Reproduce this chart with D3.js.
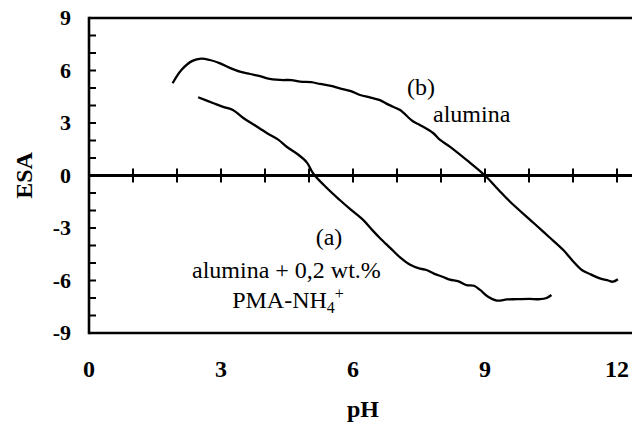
<!DOCTYPE html>
<html>
<head>
<meta charset="utf-8">
<script src="https://cdn.jsdelivr.net/npm/d3@7"></script>
<style>
  body { margin: 0; background: #fff; }
  svg { display: block; }
</style>
</head>
<body>
<svg></svg>
<script>
// ESA vs pH curves
const xTicks = [0, 3, 6, 9, 12];
const yTicks = [-9, -6, -3, 0, 3, 6, 9];

// (b) alumina
const alumina = [
  [1.9, 5.27], [2.1, 6.03], [2.35, 6.55], [2.55, 6.68], [2.75, 6.6], [2.98, 6.41],
  [3.2, 6.15], [3.43, 5.93], [3.66, 5.8], [3.89, 5.68], [4.05, 5.55], [4.34, 5.46],
  [4.6, 5.45], [4.8, 5.36], [5.05, 5.33], [5.25, 5.23], [5.5, 5.12], [5.7, 4.98],
  [5.95, 4.82], [6.16, 4.6], [6.4, 4.45], [6.61, 4.31], [6.75, 4.12], [6.91, 3.93],
  [7.07, 3.74], [7.36, 3.1], [7.52, 2.89], [7.82, 2.43], [7.98, 2.03], [8.2, 1.65],
  [8.58, 0.89], [9.0, 0.0], [9.3, -0.8], [9.57, -1.5], [10.1, -2.7], [10.45, -3.5],
  [10.78, -4.26], [11.0, -4.9], [11.2, -5.4], [11.4, -5.65], [11.61, -5.88],
  [11.8, -6.0], [11.91, -6.07], [12.02, -5.93]
];

// (a) alumina + 0,2 wt.% PMA-NH4+
const aluminaPMA = [
  [2.48, 4.47], [2.83, 4.13], [3.05, 3.92], [3.27, 3.74], [3.5, 3.3], [3.75, 2.9],
  [4.04, 2.43], [4.3, 2.05], [4.5, 1.63], [4.75, 1.2], [4.95, 0.75], [5.1, 0.1],
  [5.4, -0.7], [5.7, -1.4], [5.95, -1.95], [6.23, -2.54], [6.45, -3.15], [6.61, -3.57],
  [6.85, -4.15], [7.07, -4.68], [7.3, -5.1], [7.52, -5.32], [7.67, -5.4], [7.85, -5.62],
  [8.05, -5.8], [8.2, -5.95], [8.4, -6.05], [8.58, -6.26], [8.75, -6.3], [8.89, -6.54],
  [9.07, -6.93], [9.27, -7.15], [9.5, -7.08], [9.72, -7.07], [10.0, -7.05],
  [10.25, -7.07], [10.4, -7.0], [10.51, -6.83]
];

const width = 632, height = 423;
const svg = d3.select("svg").attr("width", width).attr("height", height);

const x = d3.scaleLinear().domain([0, 12]).range([89, 617]);
const y = d3.scaleLinear().domain([-9, 9]).range([333, 18]);
const xEnd = width;

const ink = "#000";
const serif = "'Liberation Serif', 'Times New Roman', serif";

// frame: top, bottom, left, plus the zero line
svg.append("line").attr("x1", x(0)).attr("x2", xEnd).attr("y1", y(9)).attr("y2", y(9))
  .attr("stroke", ink).attr("stroke-width", 2.6);
svg.append("line").attr("x1", x(0)).attr("x2", xEnd).attr("y1", y(-9)).attr("y2", y(-9))
  .attr("stroke", ink).attr("stroke-width", 2.6);
svg.append("line").attr("x1", x(0)).attr("x2", x(0)).attr("y1", y(9) - 1.3).attr("y2", y(-9) + 1.3)
  .attr("stroke", ink).attr("stroke-width", 2.6);
svg.append("line").attr("x1", x(0)).attr("x2", xEnd).attr("y1", y(0)).attr("y2", y(0))
  .attr("stroke", ink).attr("stroke-width", 2.8);

// minor ticks on the left axis, pointing inward
svg.append("g").selectAll("line")
  .data(d3.range(-8, 9))
  .join("line")
  .attr("x1", x(0)).attr("x2", x(0) + 7)
  .attr("y1", d => y(d)).attr("y2", d => y(d))
  .attr("stroke", ink).attr("stroke-width", 2);

// ticks across the zero line
svg.append("g").selectAll("line")
  .data(d3.range(1, 13))
  .join("line")
  .attr("x1", d => x(d)).attr("x2", d => x(d))
  .attr("y1", y(0) - 7).attr("y2", y(0) + 7)
  .attr("stroke", ink).attr("stroke-width", 2);

// tick labels
svg.append("g").selectAll("text")
  .data(yTicks)
  .join("text")
  .attr("x", 71).attr("y", d => y(d)).attr("dy", "0.34em")
  .attr("text-anchor", "end")
  .attr("font-family", serif).attr("font-weight", "bold").attr("font-size", 22)
  .text(d => d);

svg.append("g").selectAll("text")
  .data(xTicks)
  .join("text")
  .attr("x", d => x(d)).attr("y", 377)
  .attr("text-anchor", "middle")
  .attr("font-family", serif).attr("font-weight", "bold").attr("font-size", 24)
  .text(d => d);

// axis titles
svg.append("text")
  .attr("x", 363).attr("y", 417)
  .attr("text-anchor", "middle")
  .attr("font-family", serif).attr("font-weight", "bold").attr("font-size", 24)
  .text("pH");

svg.append("text")
  .attr("transform", "translate(32," + y(0) + ") rotate(-90)")
  .attr("text-anchor", "middle")
  .attr("font-family", serif).attr("font-weight", "bold").attr("font-size", 24)
  .text("ESA");

// curves
const line = d3.line().curve(d3.curveCatmullRom.alpha(0.5))
  .x(d => x(d[0])).y(d => y(d[1]));

svg.append("path").datum(alumina)
  .attr("d", line).attr("fill", "none")
  .attr("stroke", ink).attr("stroke-width", 2.3).attr("stroke-linejoin", "round");

svg.append("path").datum(aluminaPMA)
  .attr("d", line).attr("fill", "none")
  .attr("stroke", ink).attr("stroke-width", 2.3).attr("stroke-linejoin", "round");

// annotations
const note = (tx, ty, anchor) => svg.append("text")
  .attr("x", tx).attr("y", ty).attr("text-anchor", anchor)
  .attr("font-family", serif).attr("font-size", 24).attr("fill", ink);

note(421, 95, "middle").text("(b)");
note(433, 122, "start").text("alumina");
note(329, 245, "middle").text("(a)");
note(192, 278, "start").text("alumina + 0,2 wt.%");
const pma = note(288, 308, "middle");
pma.append("tspan").text("PMA-NH");
pma.append("tspan").attr("font-size", 16).attr("dy", 5).text("4");
pma.append("tspan").attr("font-size", 16).attr("dy", -14).text("+");
</script>
</body>
</html>
